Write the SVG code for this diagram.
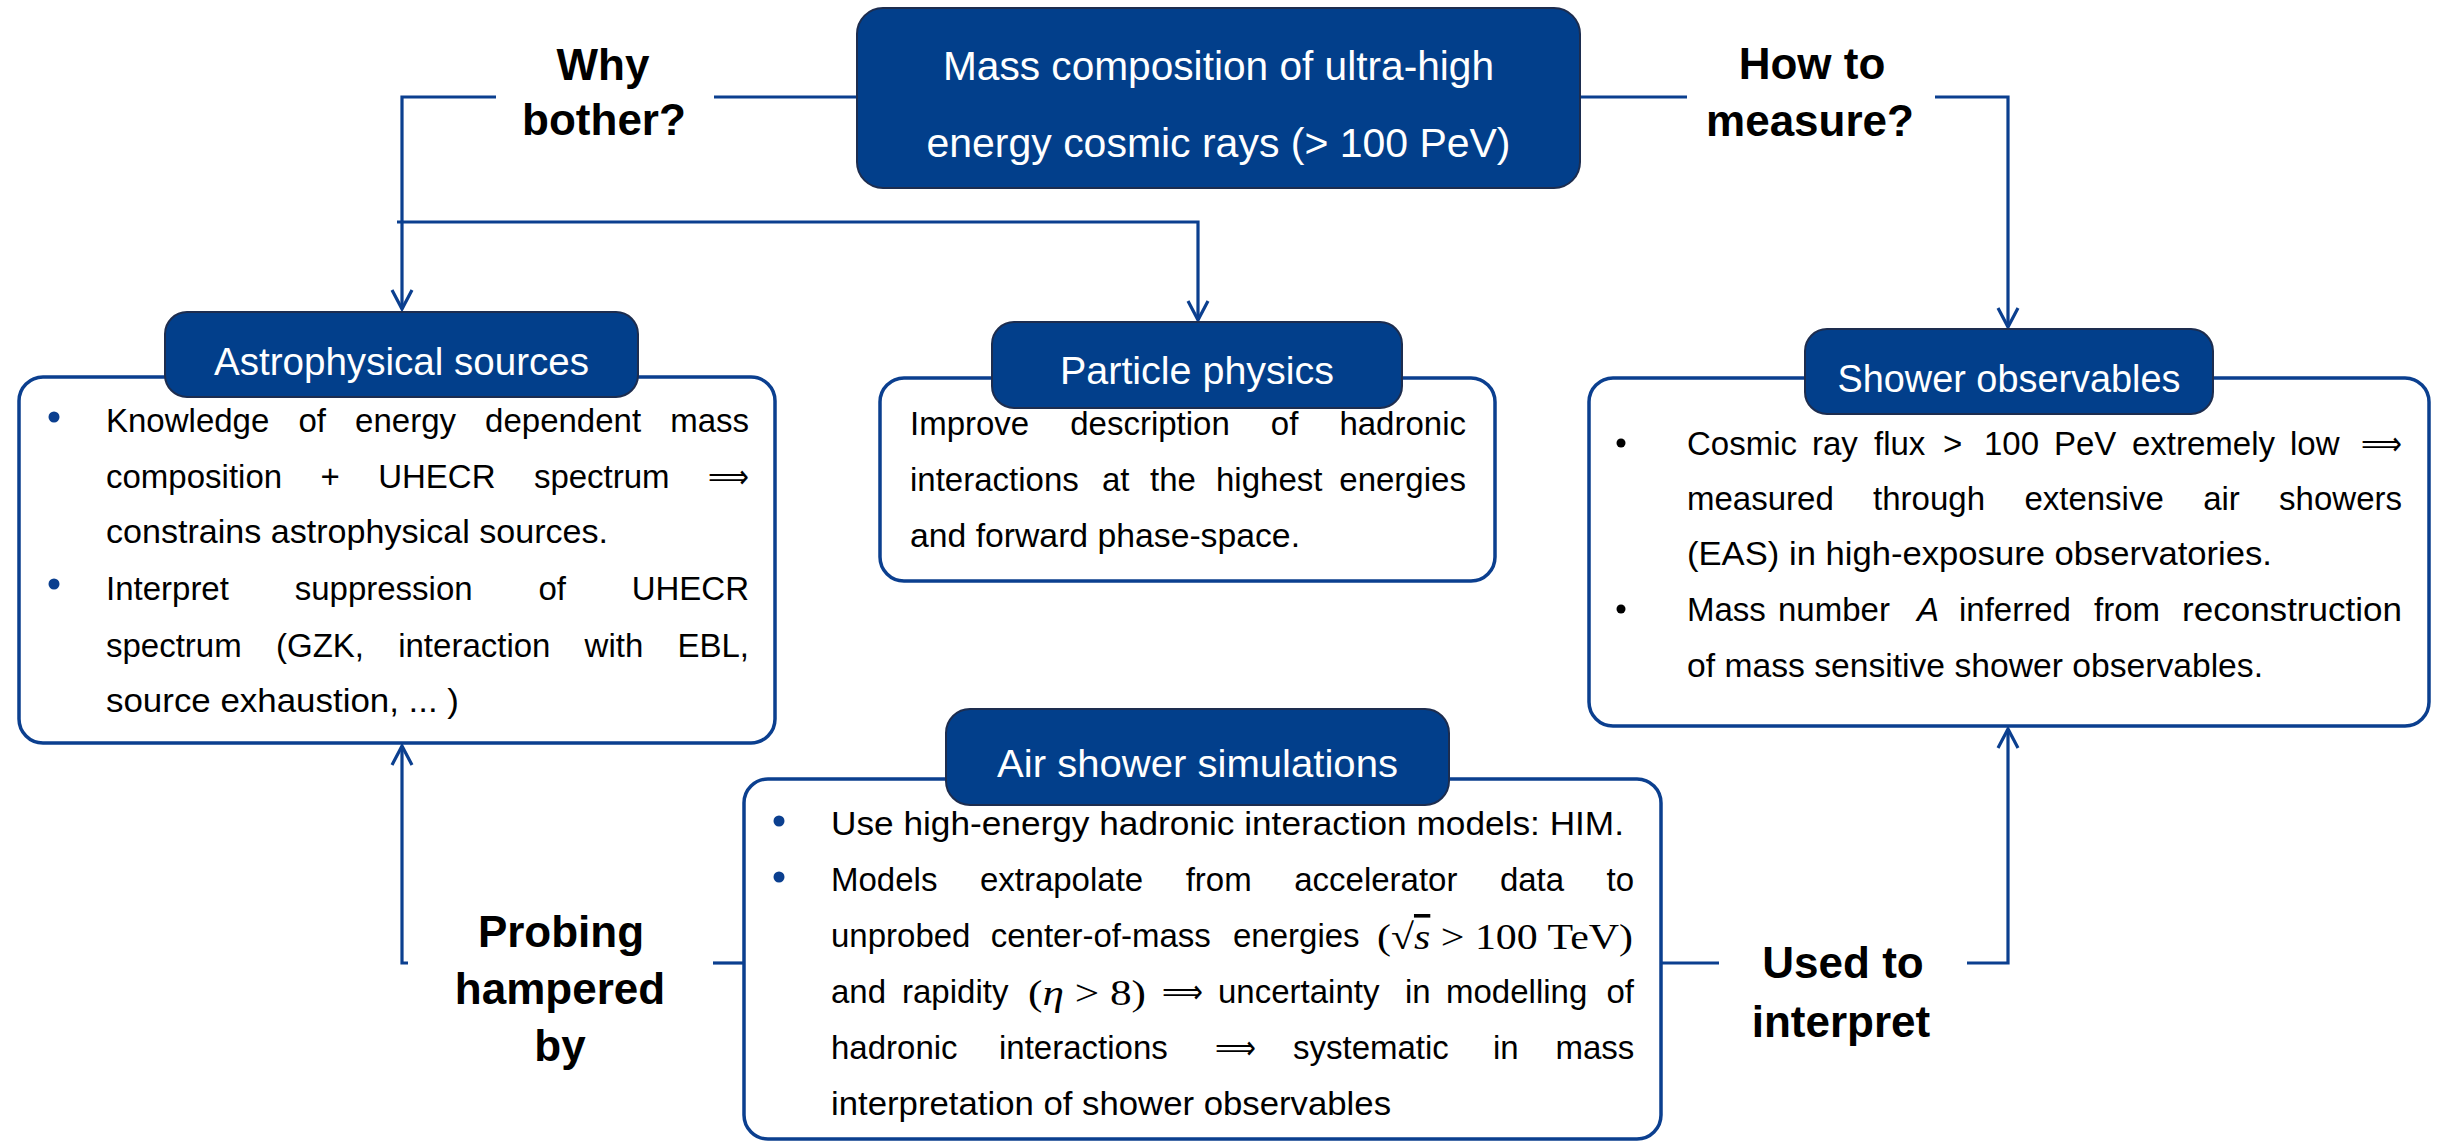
<svg xmlns="http://www.w3.org/2000/svg" width="2443" height="1143" viewBox="0 0 2443 1143">
<style>
.hbox{fill:#023f8b;stroke:#1d2d4f;stroke-width:2}
.obox{fill:#fff;stroke:#0b3f8f;stroke-width:3.5}
.conn{fill:none;stroke:#0b3f8f;stroke-width:3.2}
.hdr{font-family:'Liberation Sans',Arial,sans-serif;font-size:38px;fill:#fff;text-anchor:middle}
.body{font-family:'Liberation Sans',Arial,sans-serif;font-size:33px;fill:#000}
.lbl{font-family:'Liberation Sans',Arial,sans-serif;font-size:44px;font-weight:bold;fill:#000;text-anchor:middle}
.math{font-family:'Liberation Serif','Times New Roman',serif;font-size:36px;fill:#000}
.arw{font-family:'DejaVu Sans',sans-serif}
.bul{fill:#0b3f8f}
.bulk{fill:#000}
</style>
<defs>
<marker id="ah" markerUnits="userSpaceOnUse" orient="auto" refX="0" refY="0" markerWidth="40" markerHeight="40" overflow="visible">
<path d="M-19,-10 L0,0 L-19,10" fill="none" stroke="#0b3f8f" stroke-width="3.2"/>
</marker>
</defs>
<rect width="2443" height="1143" fill="#fff"/>

<g id="connectors">
<path class="conn" d="M857,97 H714"/>
<path class="conn" d="M496,97 H402 V309" marker-end="url(#ah)"/>
<path class="conn" d="M397,222 H1198 V320" marker-end="url(#ah)"/>
<path class="conn" d="M1580,97 H1687"/>
<path class="conn" d="M1935,97 H2008 V327" marker-end="url(#ah)"/>
<path class="conn" d="M744,963 H713"/>
<path class="conn" d="M408,963 H402 V746" marker-end="url(#ah)"/>
<path class="conn" d="M1661,963 H1719"/>
<path class="conn" d="M1967,963 H2008 V729" marker-end="url(#ah)"/>
</g>

<g id="label-why">
<text class="lbl" x="603" y="80">Why</text>
<text class="lbl" x="604" y="135">bother?</text>
</g>
<g id="label-how">
<text class="lbl" x="1812" y="79">How to</text>
<text class="lbl" x="1810" y="136">measure?</text>
</g>
<g id="label-probing">
<text class="lbl" x="561" y="947">Probing</text>
<text class="lbl" x="560" y="1004">hampered</text>
<text class="lbl" x="560" y="1061">by</text>
</g>
<g id="label-used">
<text class="lbl" x="1843" y="978">Used to</text>
<text class="lbl" x="1841" y="1037">interpret</text>
</g>

<g id="main">
<rect class="hbox" x="857" y="8" width="723" height="180" rx="26"/>
<text class="hdr" x="1218.5" y="80" style="font-size:40px" textLength="551" lengthAdjust="spacingAndGlyphs">Mass composition of ultra-high</text>
<text class="hdr" x="1218.5" y="157" style="font-size:40px" textLength="584" lengthAdjust="spacingAndGlyphs">energy cosmic rays (&gt; 100 PeV)</text>
</g>

<g id="astrophysical">
<rect class="obox" x="19" y="377" width="756" height="366" rx="24"/>
<rect class="hbox" x="165" y="312" width="473" height="85" rx="22"/>
<text class="hdr" x="401.5" y="375" textLength="375" lengthAdjust="spacingAndGlyphs">Astrophysical sources</text>
<circle class="bul" cx="54" cy="417" r="5.5"/>
<circle class="bul" cx="54" cy="584" r="5.5"/>
<text class="body" y="432"><tspan x="106">Knowledge</tspan><tspan x="298.4">of</tspan><tspan x="355.1">energy</tspan><tspan x="485.1">dependent</tspan><tspan x="670.2">mass</tspan></text>
<text class="body" y="488"><tspan x="106">composition</tspan><tspan x="320.5">+</tspan><tspan x="378.2">UHECR</tspan><tspan x="533.9">spectrum</tspan></text>
<text class="body arw" x="708" y="488" textLength="41" lengthAdjust="spacingAndGlyphs">⟹</text>
<text class="body" x="106" y="543" textLength="502" lengthAdjust="spacingAndGlyphs">constrains astrophysical sources.</text>
<text class="body" y="600"><tspan x="106">Interpret</tspan><tspan x="294.7">suppression</tspan><tspan x="538.4">of</tspan><tspan x="631.7">UHECR</tspan></text>
<text class="body" y="657"><tspan x="106">spectrum</tspan><tspan x="276">(GZK,</tspan><tspan x="398.2">interaction</tspan><tspan x="584.6">with</tspan><tspan x="677.5">EBL,</tspan></text>
<text class="body" x="106" y="712" textLength="353" lengthAdjust="spacingAndGlyphs">source exhaustion, ... )</text>
</g>

<g id="particle">
<rect class="obox" x="880" y="378" width="615" height="203" rx="24"/>
<rect class="hbox" x="992" y="322" width="410" height="86" rx="22"/>
<text class="hdr" x="1197" y="384" textLength="274" lengthAdjust="spacingAndGlyphs">Particle physics</text>
<text class="body" y="435"><tspan x="910">Improve</tspan><tspan x="1070.2">description</tspan><tspan x="1270.8">of</tspan><tspan x="1339.4">hadronic</tspan></text>
<text class="body" y="491"><tspan x="910">interactions</tspan><tspan x="1102">at</tspan><tspan x="1150">the</tspan><tspan x="1216">highest</tspan><tspan x="1339.3">energies</tspan></text>
<text class="body" x="910" y="547" textLength="390" lengthAdjust="spacingAndGlyphs">and forward phase-space.</text>
</g>

<g id="shower">
<rect class="obox" x="1589" y="378" width="840" height="348" rx="24"/>
<rect class="hbox" x="1805" y="329" width="408" height="85" rx="22"/>
<text class="hdr" x="2009" y="392" textLength="343" lengthAdjust="spacingAndGlyphs">Shower observables</text>
<circle class="bulk" cx="1621" cy="443" r="4.5"/>
<circle class="bulk" cx="1621" cy="609" r="4.5"/>
<text class="body" y="455"><tspan x="1687">Cosmic</tspan><tspan x="1812">ray</tspan><tspan x="1874">flux</tspan><tspan x="1943">&gt;</tspan><tspan x="1984">100</tspan><tspan x="2054">PeV</tspan><tspan x="2132">extremely</tspan><tspan x="2290">low</tspan></text>
<text class="body arw" x="2361" y="455" textLength="41" lengthAdjust="spacingAndGlyphs">⟹</text>
<text class="body" y="510"><tspan x="1687">measured</tspan><tspan x="1873.1">through</tspan><tspan x="2024.4">extensive</tspan><tspan x="2203.2">air</tspan><tspan x="2279.1">showers</tspan></text>
<text class="body" x="1687" y="565" textLength="585" lengthAdjust="spacingAndGlyphs">(EAS) in high-exposure observatories.</text>
<text class="body" y="621"><tspan x="1687">Mass</tspan><tspan x="1778">number</tspan><tspan x="1917" font-style="italic">A</tspan><tspan x="1959">inferred</tspan><tspan x="2094">from</tspan></text>
<text class="body" x="2182" y="621" textLength="220" lengthAdjust="spacingAndGlyphs">reconstruction</text>
<text class="body" x="1687" y="677" textLength="576" lengthAdjust="spacingAndGlyphs">of mass sensitive shower observables.</text>
</g>

<g id="airshower">
<rect class="obox" x="744" y="779" width="917" height="360" rx="24"/>
<rect class="hbox" x="946" y="709" width="503" height="96" rx="24"/>
<text class="hdr" x="1197.5" y="777" textLength="401" lengthAdjust="spacingAndGlyphs">Air shower simulations</text>
<circle class="bul" cx="779" cy="821" r="5.5"/>
<circle class="bul" cx="779" cy="877" r="5.5"/>
<text class="body" x="831" y="835" textLength="793" lengthAdjust="spacingAndGlyphs">Use high-energy hadronic interaction models: HIM.</text>
<text class="body" y="891"><tspan x="831">Models</tspan><tspan x="979.9">extrapolate</tspan><tspan x="1185.7">from</tspan><tspan x="1294.2">accelerator</tspan><tspan x="1499.9">data</tspan><tspan x="1606.6">to</tspan></text>
<text class="body" y="947"><tspan x="831">unprobed</tspan><tspan x="990.7">center-of-mass</tspan><tspan x="1233">energies</tspan></text>
<text class="math" x="1377" y="949" textLength="256" lengthAdjust="spacingAndGlyphs">(√<tspan font-style="italic" text-decoration="overline">s</tspan> &gt; 100 TeV)</text>
<text class="body" y="1003"><tspan x="831">and</tspan><tspan x="902">rapidity</tspan></text>
<text class="math" x="1028" y="1005" textLength="118" lengthAdjust="spacingAndGlyphs">(<tspan font-style="italic">η</tspan> &gt; 8)</text>
<text class="body arw" x="1162" y="1003" textLength="41" lengthAdjust="spacingAndGlyphs">⟹</text>
<text class="body" y="1003"><tspan x="1218">uncertainty</tspan><tspan x="1405">in</tspan><tspan x="1446">modelling</tspan><tspan x="1606.4">of</tspan></text>
<text class="body" y="1059"><tspan x="831">hadronic</tspan><tspan x="999">interactions</tspan></text>
<text class="body arw" x="1215" y="1059" textLength="41" lengthAdjust="spacingAndGlyphs">⟹</text>
<text class="body" y="1059"><tspan x="1293">systematic</tspan><tspan x="1493">in</tspan><tspan x="1555.4">mass</tspan></text>
<text class="body" x="831" y="1115" textLength="560" lengthAdjust="spacingAndGlyphs">interpretation of shower observables</text>
</g>
</svg>
